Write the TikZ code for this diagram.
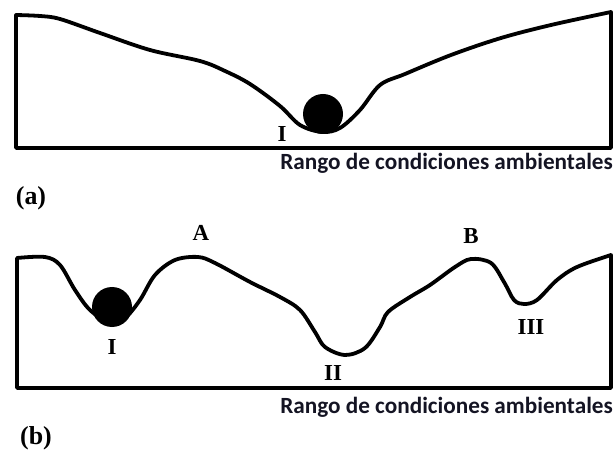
\documentclass[tikz,border=0pt]{standalone}
\usepackage{fontspec}
\setmainfont{Liberation Serif}
\newfontfamily\calib{Carlito}
\begin{document}
\begin{tikzpicture}[x=1bp,y=-1bp,
  land/.style={line width=3.8bp, line join=round, line cap=round},
  ball/.style={fill=black},
  lbl/.style={font=\fontsize{23}{23}\selectfont\bfseries, inner sep=0pt},
  panel/.style={font=\fontsize{26}{26}\selectfont\bfseries, inner sep=0pt},
  axis/.style={font=\calib\fontsize{23.3}{23.3}\selectfont\bfseries, text={rgb,255:red,20;green,20;blue,35}, inner sep=0pt, anchor=base east}]
\useasboundingbox (0,0) rectangle (614,465);
% panel (a)
\draw[land] (611,148) -- (16,148) -- (16,15) -- plot[smooth, tension=0.55] coordinates {
 (16,15) (40,16) (60,19) (100,33) (150,50) (200,61) (225,71) (250,84) (280,106) (300,125) (322,132) (340,128) (360,110) (380,85) (405,74) (451,55) (501,38) (551,25) (611,12)} -- cycle;
\node[ball, circle, minimum size=40bp, inner sep=0pt] (ballA) at (323,114) {};
\node[lbl] (IA) at (282,134) {I};
\node[axis] (axA) at (613,170) {Rango de condiciones ambientales};
\node[panel] (pa) at (31,198) {(a)};
% panel (b)
\draw[land] (611,388) -- (17,388) -- (17,258) -- plot[smooth, tension=0.55] coordinates {
 (17,258) (45,257) (60,265) (75,290) (90,310) (110,323) (125,318) (140,300) (155,275) (175,260) (198,257) (215,263) (250,282) (280,297) (300,310) (315,332) (325,347) (345,355) (365,348) (380,327) (388,312) (410,297) (430,285) (455,267) (471,259) (491,263) (504,282) (514,300) (524,304) (537,300) (557,280) (577,267) (611,255)} -- cycle;
\node[ball, circle, minimum size=40bp, inner sep=0pt] (ballB) at (112,307) {};
\node[lbl] (IB) at (112,347) {I};
\node[lbl] (A) at (201,233) {A};
\node[lbl] (II) at (333,373) {II};
\node[lbl] (B) at (471,236) {B};
\node[lbl] (III) at (531,327) {III};
\node[axis] (axB) at (613,413) {Rango de condiciones ambientales};
\node[panel] (pb) at (36,438) {(b)};
\end{tikzpicture}
\end{document}
